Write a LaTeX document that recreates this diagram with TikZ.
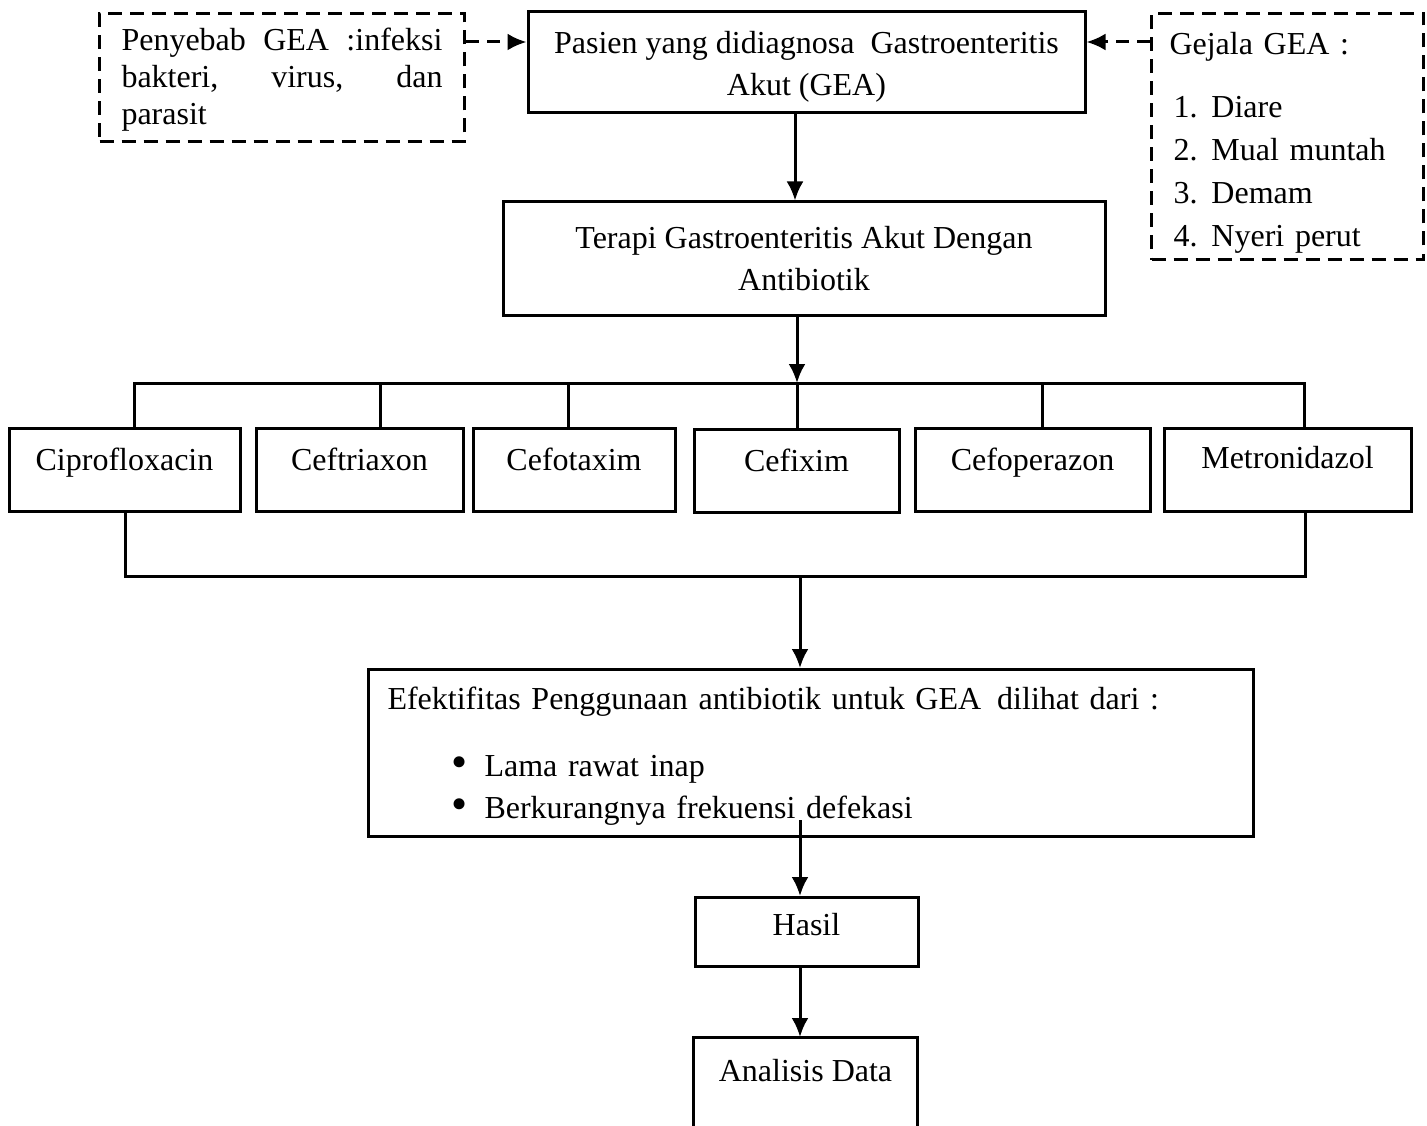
\documentclass[tikz,border=0pt]{standalone}
\usepackage{fontspec}
\setmainfont{Liberation Serif}
\usetikzlibrary{arrows.meta}
\newcommand{\bigbul}{\raisebox{-1pt}{\fontsize{46}{42}\selectfont\textbullet}}
\begin{document}
\begin{tikzpicture}[x=1pt,y=-1pt,line width=3pt,
  every node/.style={font=\fontsize{32}{42}\selectfont},
  box/.style={draw,rectangle,inner sep=0pt,line width=3pt},
  dbox/.style={box,dash pattern=on 14pt off 8pt},
  drug/.style={box,anchor=north,text height=42pt,text depth=41pt},
  arr/.style={-{Latex[length=19pt,width=17pt]},line width=3pt},
  darr/.style={arr,dash pattern=on 13pt off 8pt}]
\useasboundingbox (0,0) rectangle (1427,1126);

% top row
\node[dbox,anchor=north west,minimum width=365pt,minimum height=128pt,
      text width=321pt,align=justify,font=\fontsize{32}{37}\selectfont] (cause) at (98,12)
  {\rule{0pt}{26pt}Penyebab GEA :infeksi\linebreak bakteri, virus, dan\linebreak parasit};
\node[box,minimum width=557pt,minimum height=101pt,align=center] (pasien) at (806.5,62.5)
  {\rule{0pt}{30pt}Pasien yang didiagnosa\ \ Gastroenteritis\\Akut (GEA)};
\node[dbox,anchor=north west,minimum width=272pt,minimum height=246pt,
      text width=236pt,align=left,font=\fontsize{32}{43}\selectfont] (gejala) at (1150,12)
  {\rule{0pt}{34pt}Gejala GEA :\\[20pt]
   \hspace*{4pt}\makebox[38pt][l]{1.}Diare\\
   \hspace*{4pt}\makebox[38pt][l]{2.}Mual muntah\\
   \hspace*{4pt}\makebox[38pt][l]{3.}Demam\\
   \hspace*{4pt}\makebox[38pt][l]{4.}Nyeri perut};
\coordinate (ya) at (0,42);
\draw[darr] (cause.east |- ya) -- (pasien.west |- ya);
\draw[darr] (gejala.west |- ya) -- (pasien.east |- ya);

% therapy
\node[box,minimum width=602pt,minimum height=113pt,align=center] (terapi) at (804,258.5)
  {Terapi Gastroenteritis Akut Dengan\\Antibiotik};
\coordinate (ax1) at (795,0);
\draw[arr] (pasien.south -| ax1) -- (terapi.north -| ax1);

% drugs
\node[drug,minimum width=231pt] (cipro) at (124.5,427) {Ciprofloxacin};
\node[drug,minimum width=207pt] (ceftri) at (359.5,427) {Ceftriaxon};
\node[drug,minimum width=202pt] (cefot) at (574,427) {Cefotaxim};
\node[drug,minimum width=205pt] (cefix) at (796.5,428) {Cefixim};
\node[drug,minimum width=235pt] (cefop) at (1032.5,427) {Cefoperazon};
\node[drug,minimum width=247pt,text height=40pt,text depth=43pt] (metro) at (1287.5,427) {Metronidazol};

% top bus
\coordinate (t1) at (134,383);
\coordinate (t2) at (380,383);
\coordinate (t3) at (568,383);
\coordinate (t4) at (797,383);
\coordinate (t5) at (1042,383);
\coordinate (t6) at (1304,383);
\draw (cipro.north -| t1) -- (t1) -- (t6) -- (metro.north -| t6);
\draw (t2) -- (ceftri.north -| t2);
\draw (t3) -- (cefot.north -| t3);
\draw (t4) -- (cefix.north -| t4);
\draw (t5) -- (cefop.north -| t5);
\draw[arr] (terapi.south -| t4) -- (t4);

% bottom bus
\coordinate (u1) at (125,576);
\coordinate (u4) at (800,576);
\coordinate (u6) at (1305,576);
\draw (cipro.south -| u1) -- (u1) -- (u6) -- (metro.south -| u6);

% effectiveness
\node[box,anchor=north west,minimum width=885pt,minimum height=167pt,
      text width=847pt,align=left] (efek) at (367,668)
  {\rule{0pt}{29pt}Efektifitas Penggunaan antibiotik untuk GEA\ \,dilihat dari :\\[25pt]
   \hspace*{64pt}\makebox[33pt][l]{\bigbul}Lama rawat inap\\
   \hspace*{64pt}\makebox[33pt][l]{\bigbul}Berkurangnya frekuensi defekasi};
\draw[arr] (u4) -- (efek.north -| u4);

% results
\node[box,anchor=north,minimum width=223pt,text height=38pt,text depth=31pt] (hasil) at (806.5,896) {Hasil};
\node[anchor=north,minimum width=221pt,inner sep=0pt,text height=43pt,text depth=53pt] (analisis) at (805.5,1037) {Analisis Data};
\draw (analisis.south west) -- (analisis.north west) -- (analisis.north east) -- (analisis.south east);
\coordinate (e1) at (800,820);
\draw[arr] (e1) -- (hasil.north -| e1);
\draw[arr] (hasil.south -| e1) -- (analisis.north -| e1);
\end{tikzpicture}
\end{document}
